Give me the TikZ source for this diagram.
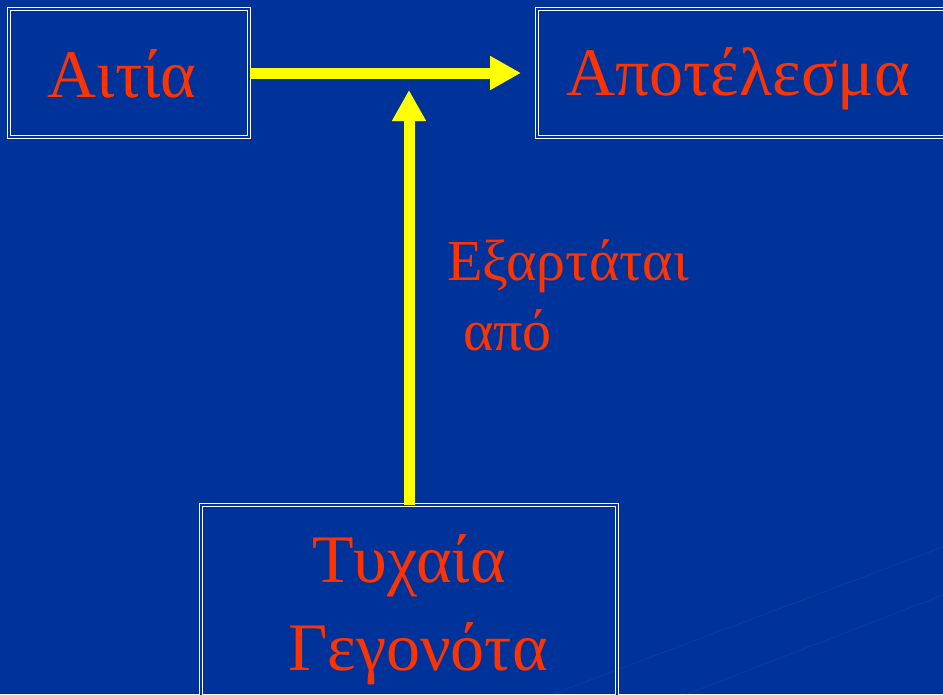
\documentclass[tikz,border=0pt]{standalone}
\usepackage{fontspec}
\setmainfont{Liberation Serif}
\usepackage{tikz}
\usetikzlibrary{arrows.meta}
\definecolor{slideblue}{RGB}{0,51,153}
\definecolor{wordred}{RGB}{255,51,0}
\definecolor{flowyel}{RGB}{255,255,0}
\definecolor{streakc}{RGB}{14,62,160}

\begin{document}
\begin{tikzpicture}[x=1pt, y=-1pt,
  box/.style={draw=white, line width=1pt, double=slideblue, double distance=1.3pt, inner sep=0pt},
  word/.style={text=wordred, inner sep=0pt, anchor=base, font=\fontsize{68}{80}\selectfont},
  smallword/.style={word, anchor=base west, font=\fontsize{58}{68}\selectfont},
  flow/.style={draw=flowyel, line width=11pt, -{Triangle[length=31pt, width=32pt]}}]

% canvas 943 x 694, one unit = one pixel of the slide
\useasboundingbox (0,0) rectangle (943,694);
\fill[slideblue] (0,0) rectangle (943,694);
\clip (0,0) rectangle (943,694);

%% ── faint background streaks ─────────────────────────────────────
\draw[streakc, line width=0.6pt] (553,694) -- (943,547);
\draw[streakc, line width=0.6pt] (687,694) -- (943,595);

%% ── boxes ────────────────────────────────────────────────────────
\node[box, minimum width=240, minimum height=128] (cause) at (129,73) {};
\node[box, minimum width=423, minimum height=128] (effect) at (748.5,73) {};
\node[box, minimum width=416, minimum height=215] (chance) at (409,612.5) {};

%% ── box texts ────────────────────────────────────────────────────
\node[word] (causetxt) at (122,97) {Αιτία};
\node[word] (effecttxt) at (738,95) {Αποτέλεσμα};
\node[word] (chancetxta) at (409,582) {Τυχαία};
\node[word] (chancetxtb) at (418,670) {Γεγονότα};

%% ── arrows ───────────────────────────────────────────────────────
\coordinate (tipa) at (521,73);
\coordinate (tipb) at (409,90);
\draw[flow] (cause.east) -- (tipa);
\draw[flow] (chance.north) -- (tipb);

%% ── arrow label ──────────────────────────────────────────────────
\node[smallword] (dependa) at (447,280) {Εξαρτάται};
\node[smallword] (dependb) at (463,350) {από};

\end{tikzpicture}
\end{document}
